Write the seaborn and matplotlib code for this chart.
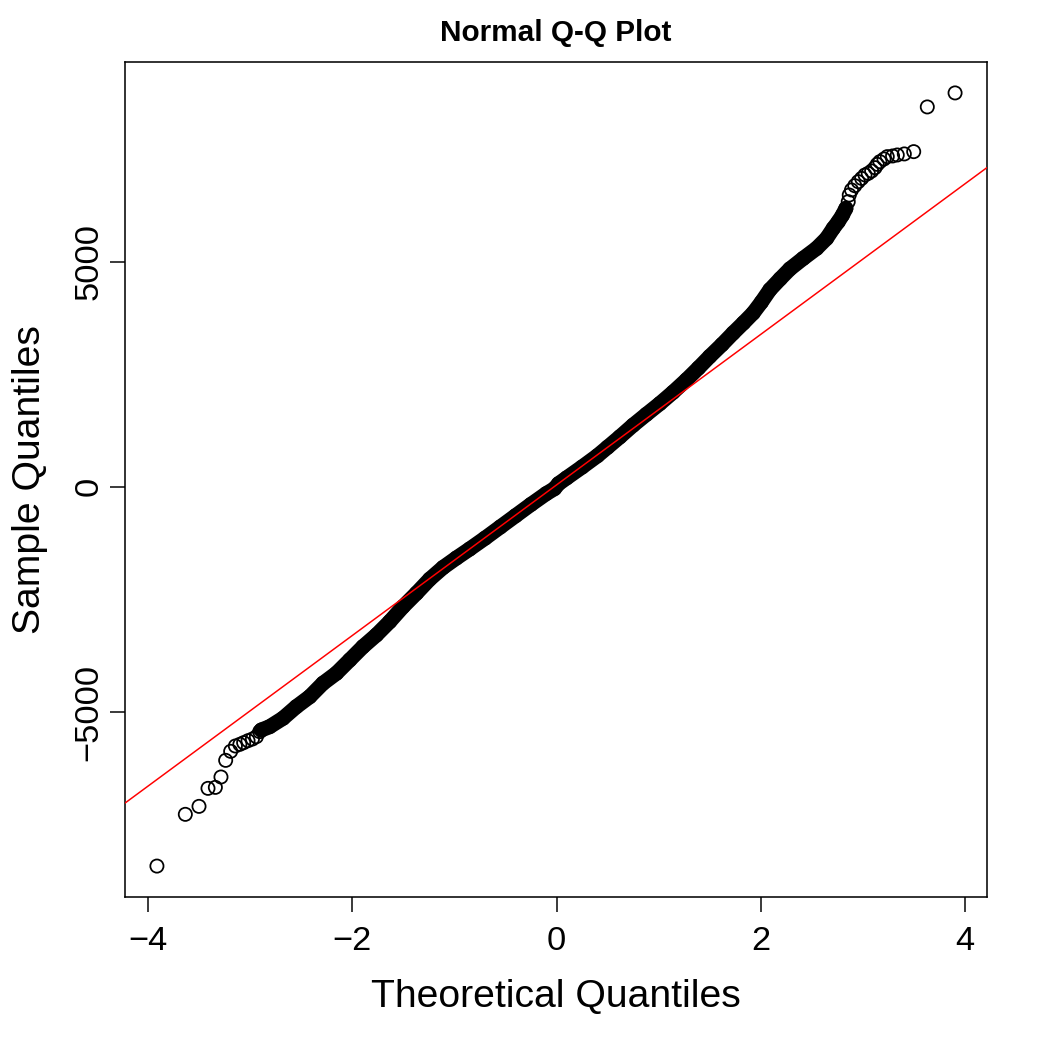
import matplotlib
matplotlib.use("Agg")
import matplotlib.pyplot as plt
import seaborn as sns
import pandas as pd

# ---------------- data ----------------
title = "Normal Q-Q Plot"
x_label = "Theoretical Quantiles"
y_label = "Sample Quantiles"
x_ticks = [-4, -2, 0, 2, 4]
y_ticks = [-5000, 0, 5000]

lower_tail_theoretical = [-3.912, -3.634, -3.500, -3.412, -3.340, -3.285, -3.239,
                          -3.190, -3.144, -3.100, -3.063, -3.020, -2.977, -2.938, -2.906]
lower_tail_sample = [-8422, -7273, -7096, -6696, -6674, -6444, -6074,
                     -5874, -5755, -5718, -5681, -5637, -5600, -5548, -5437]

body_theoretical = [-2.890, -2.808, -2.678, -2.547, -2.416, -2.286, -2.155, -2.024,
                    -1.894, -1.763, -1.633, -1.502, -1.371, -1.241, -1.110, -0.980,
                    -0.850, -0.700, -0.550, -0.400, -0.250, -0.100, -0.020, 0.020,
                    0.100, 0.250, 0.400, 0.500, 0.620, 0.750, 0.880, 1.012,
                    1.140, 1.273, 1.390, 1.500, 1.620, 1.729, 1.830, 1.925,
                    2.005, 2.089, 2.190, 2.285, 2.415, 2.546, 2.644, 2.709,
                    2.758, 2.800, 2.833]
body_sample = [-5400, -5326, -5140, -4882, -4660, -4362, -4140, -3844,
               -3548, -3289, -2993, -2660, -2362, -2050, -1790, -1580,
               -1380, -1140, -890, -640, -390, -150, -40, 70,
               200, 440, 690, 880, 1110, 1370, 1610, 1850,
               2100, 2378, 2640, 2896, 3160, 3415, 3640, 3860,
               4100, 4377, 4620, 4840, 5073, 5296, 5518, 5740,
               5888, 6037, 6184]

upper_tail_theoretical = [2.856, 2.866, 2.888, 2.920, 2.954, 2.987, 3.020, 3.052,
                          3.085, 3.118, 3.140, 3.166, 3.206, 3.238, 3.290, 3.336,
                          3.405, 3.497, 3.630, 3.902]
upper_tail_sample = [6333, 6481, 6593, 6688, 6777, 6850, 6926, 6962,
                     7015, 7088, 7162, 7222, 7281, 7333, 7348, 7370,
                     7393, 7444, 8437, 8748]

# reference line through the quartiles (qqline)
quartile_theoretical = [-0.6745, 0.6745]
quartile_sample = [-1086, 1170]

# ---------------- figure ----------------
sns.set_theme(style="white")
plt.rcParams["font.family"] = ["Liberation Sans", "DejaVu Sans"]
plt.rcParams["axes.unicode_minus"] = True

body = pd.DataFrame({"theoretical": body_theoretical, "sample": body_sample})
points = pd.DataFrame({
    "theoretical": lower_tail_theoretical + body_theoretical + upper_tail_theoretical,
    "sample": lower_tail_sample + body_sample + upper_tail_sample,
})

fig = plt.figure(figsize=(7, 7), dpi=150)
fig.patch.set_facecolor("white")
ax = fig.add_axes([125 / 1050, 1 - 897 / 1050, 862 / 1050, 835 / 1050])
ax.set_facecolor("white")

# dense overlapping points form a solid band
sns.lineplot(data=body, x="theoretical", y="sample", sort=False, estimator=None,
             color="black", linewidth=7.2, solid_capstyle="round", ax=ax, zorder=2)
sns.scatterplot(data=points, x="theoretical", y="sample", marker="o", s=40,
                facecolor="none", edgecolor="black", linewidth=0.85, ax=ax, zorder=3)
ax.axline((quartile_theoretical[0], quartile_sample[0]),
          (quartile_theoretical[1], quartile_sample[1]),
          color="red", linewidth=0.72, zorder=4)

# R-style 4% range extension
xs = points["theoretical"]
ys = points["sample"]
xr = xs.max() - xs.min()
yr = ys.max() - ys.min()
ax.set_xlim(xs.min() - 0.04 * xr, xs.max() + 0.04 * xr)
ax.set_ylim(ys.min() - 0.04 * yr, ys.max() + 0.04 * yr)

ax.set_xticks(x_ticks)
ax.set_yticks(y_ticks)
ax.set_xticklabels([str(t).replace("-", "\u2212") for t in x_ticks])
ax.set_yticklabels([str(t).replace("-", "\u2212") for t in y_ticks],
                   rotation=90, va="center")
ax.tick_params(axis="both", direction="out", length=7.2, width=0.72,
               color="black", labelsize=16.5, labelcolor="black",
               bottom=True, left=True)
ax.tick_params(axis="x", pad=6.5)
ax.tick_params(axis="y", pad=2.5)

for sp in ax.spines.values():
    sp.set_visible(True)
    sp.set_color("black")
    sp.set_linewidth(0.75)

ax.set_xlabel(x_label, fontsize=18.8, color="black", va="center")
ax.set_ylabel(y_label, fontsize=18.8, color="black", va="center")
ax.xaxis.set_label_coords(0.5, (897 - 997) / 835)
ax.yaxis.set_label_coords((30 - 125) / 862, 0.5)

fig.text((125 + 987) / 2 / 1050, 1 - 33 / 1050, title, ha="center", va="center",
         fontsize=14.3, fontweight="bold", color="black")

fig.savefig("out.png", dpi=150, facecolor="white")
